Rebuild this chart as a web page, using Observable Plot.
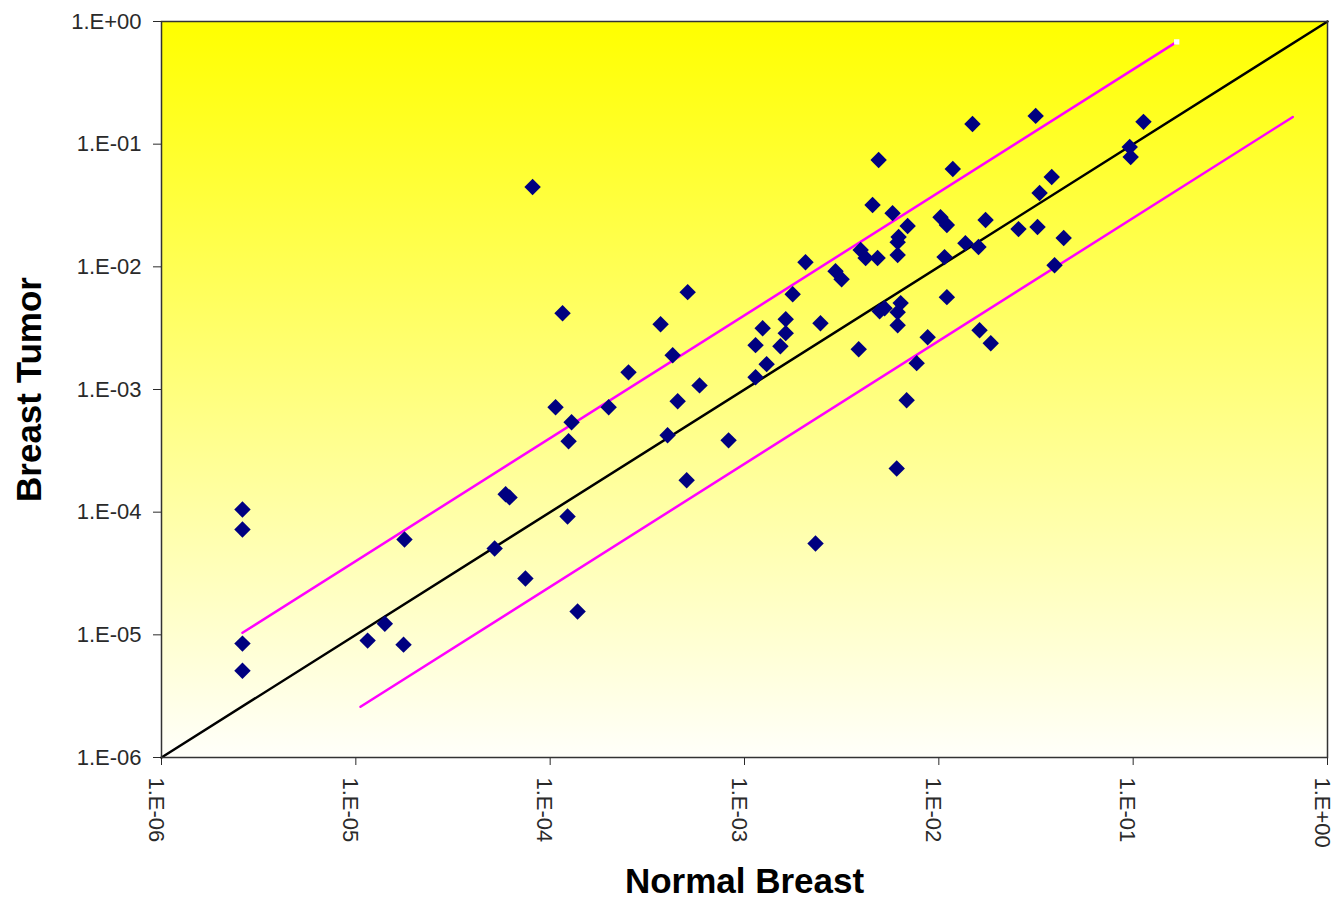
<!DOCTYPE html>
<html><head><meta charset="utf-8">
<script src="https://cdn.jsdelivr.net/npm/d3@7"></script>
<script src="https://cdn.jsdelivr.net/npm/@observablehq/plot@0.6"></script>
<style>body{margin:0;background:#fff} #chart svg{display:block}</style>
</head><body><div id="chart"></div>
<script>
// Normal Breast (x) and Breast Tumor (y) expression values
const normalBreast = [
  2.61e-6, 2.61e-6, 2.61e-6, 2.61e-6, 1.78e-5, 1.15e-5, 1.41e-5, 1.76e-5, 5.18e-5, 5.90e-5,
  6.18e-5, 7.46e-5, 8.12e-5, 1.066e-4, 1.158e-4, 1.229e-4, 1.244e-4, 1.289e-4, 1.384e-4, 2.00e-4,
  2.53e-4, 3.70e-4, 4.02e-4, 4.27e-4, 4.53e-4, 5.04e-4, 5.10e-4, 5.87e-4, 8.28e-4, 1.14e-3,
  1.14e-3, 1.24e-3, 1.30e-3, 1.53e-3, 1.63e-3, 1.63e-3, 1.77e-3, 2.06e-3, 2.32e-3, 2.46e-3,
  2.94e-3, 3.16e-3, 3.87e-3, 3.96e-3, 4.20e-3, 4.56e-3, 4.90e-3, 4.84e-3, 4.96e-3, 5.26e-3,
  5.78e-3, 6.14e-3, 6.21e-3, 6.14e-3, 6.14e-3, 6.36e-3, 6.14e-3, 6.07e-3, 6.83e-3, 6.91e-3,
  7.69e-3, 8.76e-3, 1.02e-2, 1.10e-2, 1.07e-2, 1.10e-2, 1.18e-2, 1.37e-2, 1.49e-2, 1.60e-2,
  1.62e-2, 1.74e-2, 1.85e-2, 2.57e-2, 3.15e-2, 3.22e-2, 3.30e-2, 3.81e-2, 3.94e-2, 4.39e-2,
  9.60e-2, 9.71e-2, 0.113
];
const breastTumor = [
  1.05e-4, 7.22e-5, 8.48e-6, 5.10e-6, 5.98e-5, 8.97e-6, 1.23e-5, 8.32e-6, 5.06e-5, 1.40e-4,
  1.32e-4, 2.88e-5, 4.47e-2, 7.16e-4, 4.19e-3, 9.22e-5, 3.78e-4, 5.40e-4, 1.55e-5, 7.16e-4,
  1.38e-3, 3.40e-3, 4.23e-4, 1.90e-3, 8.01e-4, 1.82e-4, 6.22e-3, 1.08e-3, 3.85e-4, 2.30e-3,
  1.26e-3, 3.16e-3, 1.61e-3, 2.25e-3, 3.74e-3, 2.88e-3, 5.98e-3, 1.09e-2, 5.55e-5, 3.47e-3,
  9.22e-3, 7.93e-3, 2.13e-3, 1.37e-2, 1.18e-2, 3.19e-2, 7.43e-2, 1.18e-2, 4.35e-3, 4.60e-3,
  2.74e-2, 3.34e-3, 1.75e-2, 1.59e-2, 1.25e-2, 5.06e-3, 4.27e-3, 2.27e-4, 8.16e-4, 2.15e-2,
  1.64e-3, 2.67e-3, 2.54e-2, 2.19e-2, 1.20e-2, 5.66e-3, 6.27e-2, 1.56e-2, 0.146, 1.45e-2,
  3.04e-3, 2.41e-2, 2.38e-3, 2.03e-2, 0.170, 2.11e-2, 4.00e-2, 5.40e-2, 1.03e-2, 1.72e-2,
  9.49e-2, 7.86e-2, 0.152
];
// Reference lines: identity and the 4-fold bands
const identityX = [1e-6, 1];
const identityY = [1e-6, 1];
const upperX = [2.61e-6, 0.1675];
const upperY = [1.04e-5, 0.682];
const lowerX = [1.057e-5, 0.663];
const lowerY = [2.59e-6, 0.1667];
const markerX = [0.1675];
const markerY = [0.682];
// Ticks
const tickValues = [1e-6, 1e-5, 1e-4, 1e-3, 1e-2, 1e-1, 1];
const tickLabels = ["1.E-06", "1.E-05", "1.E-04", "1.E-03", "1.E-02", "1.E-01", "1.E+00"];
const xTitle = "Normal Breast";
const yTitle = "Breast Tumor";

const pts = normalBreast.map((x, i) => ({x, y: breastTumor[i]}));
const pairs = (xs, ys) => xs.map((x, i) => [x, ys[i]]);
const fmt = d => tickLabels[tickValues.indexOf(d)];
const FONT = "'Liberation Sans', Arial, sans-serif";

const chart = Plot.plot({
  width: 1335,
  height: 901,
  marginLeft: 161,
  marginRight: 8,
  marginTop: 21,
  marginBottom: 144,
  style: {fontFamily: FONT, fontSize: "22px", color: "#2a2a2a", background: "#fff"},
  x: {type: "log", domain: [1e-6, 1], ticks: tickValues, tickFormat: fmt, tickRotate: 90,
      tickSize: 8, tickPadding: 12, label: null},
  y: {type: "log", domain: [1e-6, 1], ticks: tickValues, tickFormat: fmt,
      tickSize: 8, tickPadding: 12, label: null},
  marks: [
    Plot.frame({fill: "url(#bgGrad)", stroke: "none"}),
    Plot.line(pairs(identityX, identityY), {stroke: "#000", strokeWidth: 2.5}),
    Plot.line(pairs(upperX, upperY), {stroke: "#ff00ff", strokeWidth: 2.5}),
    Plot.line(pairs(lowerX, lowerY), {stroke: "#ff00ff", strokeWidth: 2.5}),
    Plot.dot(pairs(markerX, markerY), {symbol: "square", r: 3, fill: "#fff", stroke: "none"}),
    Plot.dot(pts, {x: "x", y: "y", symbol: "diamond2", r: 7.4, fill: "#000080", stroke: "none"}),
    Plot.frame({stroke: "#333", strokeWidth: 1.5}),
    Plot.text([xTitle], {frameAnchor: "bottom", dy: 135, fontSize: 35, fontWeight: "bold", fill: "#000"}),
    Plot.text([yTitle], {frameAnchor: "left", textAnchor: "middle", rotate: -90, dx: -132, fontSize: 35, fontWeight: "bold", fill: "#000"})
  ]
});

const svg = chart.tagName.toLowerCase() === "svg" ? chart : chart.querySelector("svg");
const ns = "http://www.w3.org/2000/svg";
const defs = document.createElementNS(ns, "defs");
defs.innerHTML = '<linearGradient id="bgGrad" x1="0" y1="0" x2="0" y2="1">' +
  '<stop offset="0" stop-color="#ffff00"/><stop offset="1" stop-color="#fffffa"/></linearGradient>';
svg.insertBefore(defs, svg.firstChild);
// nudge rotated x tick labels slightly left so the last one stays inside the picture
svg.querySelectorAll('g[aria-label^="x-axis"] text').forEach(t => t.setAttribute("dy", "0.27em"));
document.getElementById("chart").appendChild(chart);
</script>
</body></html>
